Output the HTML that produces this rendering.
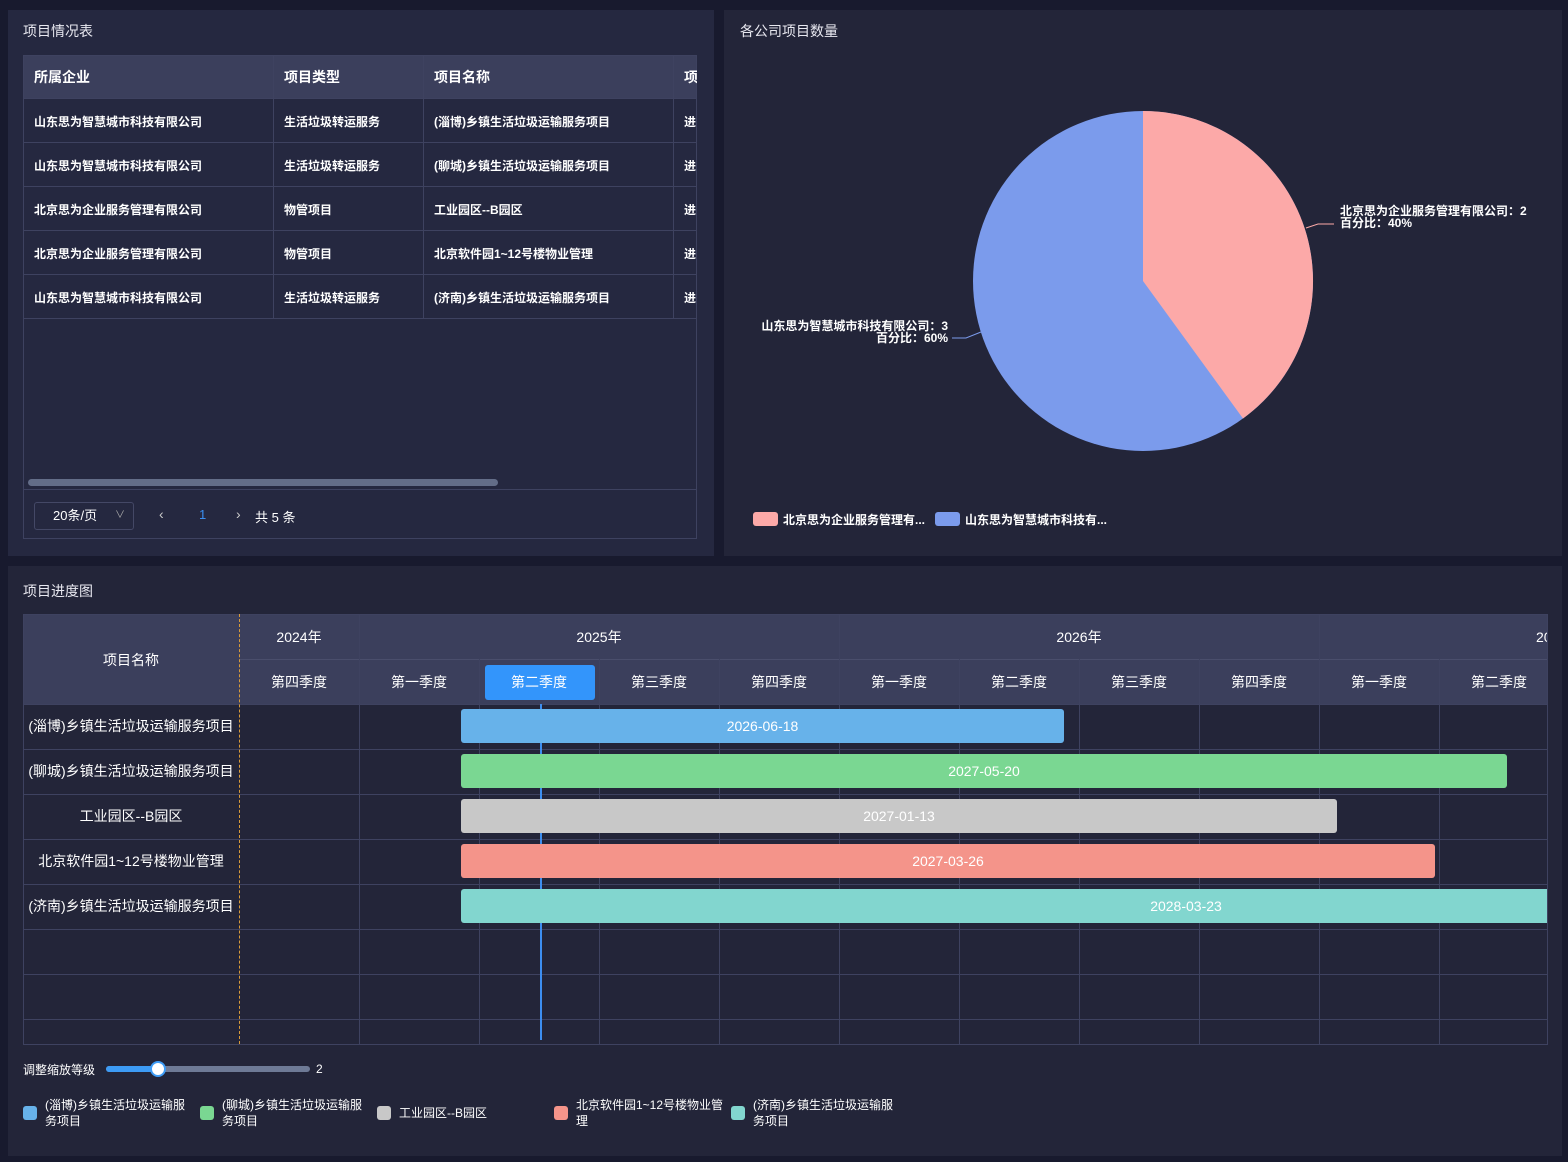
<!DOCTYPE html>
<html><head><meta charset="utf-8">
<style>
*{margin:0;padding:0;box-sizing:border-box}
body{width:1568px;height:1162px;background:#181a2e;font-family:"Liberation Sans","Noto Sans CJK SC",sans-serif;color:#fff;position:relative;overflow:hidden}
.p{position:absolute;background:#252840}
.a{position:absolute;white-space:nowrap}
.t{font-size:14px;color:#e8e8f0}
.cell{position:absolute;font-size:12px;font-weight:bold;display:flex;align-items:center;padding-left:11px}
.hl{position:absolute;height:1px;background:#3e4260}
.vl{position:absolute;width:1px;background:#3e4260}
.bar{position:absolute;height:34px;border-radius:3px;font-size:14px;display:flex;align-items:center;justify-content:center;color:#fff}
.q{position:absolute;top:659px;height:45px;width:120px;display:flex;align-items:center;justify-content:center;font-size:14px}
.lg{position:absolute;font-size:12px;line-height:16px;display:flex}
.lg i{display:inline-block;width:14px;height:14px;border-radius:3px;margin-right:8px;margin-top:9px;flex:none}
</style></head><body>
<div class="p" style="left:8px;top:10px;width:706px;height:546px"></div>
<div class="p" style="left:724px;top:10px;width:838px;height:546px;background:#232539"></div>
<div class="p" style="left:8px;top:566px;width:1554px;height:590px;background:#232539"></div>

<div class="a t" style="left:23px;top:21px">项目情况表</div>
<div style="position:absolute;left:23px;top:55px;width:674px;height:484px;border:1px solid #3e4260;overflow:hidden">
 <div style="position:absolute;left:0;top:0;width:674px;height:43px;background:#3b3f5c"></div>
</div>
<div class="cell" style="left:23px;top:55px;height:43px;font-size:14px">所属企业</div>
<div class="cell" style="left:273px;top:55px;height:43px;font-size:14px">项目类型</div>
<div class="cell" style="left:423px;top:55px;height:43px;font-size:14px">项目名称</div>
<div class="cell" style="left:673px;top:55px;height:43px;font-size:14px;width:24px;overflow:hidden">项</div>
<div class="vl" style="left:273px;top:55px;height:264px"></div>
<div class="vl" style="left:423px;top:55px;height:264px"></div>
<div class="vl" style="left:673px;top:55px;height:264px"></div>
<div class="hl" style="left:23px;top:98px;width:674px"></div>
<div class="hl" style="left:23px;top:142px;width:674px"></div>
<div class="hl" style="left:23px;top:186px;width:674px"></div>
<div class="hl" style="left:23px;top:230px;width:674px"></div>
<div class="hl" style="left:23px;top:274px;width:674px"></div>
<div class="hl" style="left:23px;top:318px;width:674px"></div>
<div class="cell" style="left:23px;top:99px;height:44px">山东思为智慧城市科技有限公司</div><div class="cell" style="left:273px;top:99px;height:44px">生活垃圾转运服务</div><div class="cell" style="left:423px;top:99px;height:44px">(淄博)乡镇生活垃圾运输服务项目</div><div class="cell" style="left:673px;top:99px;height:44px;width:24px;overflow:hidden">进</div>
<div class="cell" style="left:23px;top:143px;height:44px">山东思为智慧城市科技有限公司</div><div class="cell" style="left:273px;top:143px;height:44px">生活垃圾转运服务</div><div class="cell" style="left:423px;top:143px;height:44px">(聊城)乡镇生活垃圾运输服务项目</div><div class="cell" style="left:673px;top:143px;height:44px;width:24px;overflow:hidden">进</div>
<div class="cell" style="left:23px;top:187px;height:44px">北京思为企业服务管理有限公司</div><div class="cell" style="left:273px;top:187px;height:44px">物管项目</div><div class="cell" style="left:423px;top:187px;height:44px">工业园区--B园区</div><div class="cell" style="left:673px;top:187px;height:44px;width:24px;overflow:hidden">进</div>
<div class="cell" style="left:23px;top:231px;height:44px">北京思为企业服务管理有限公司</div><div class="cell" style="left:273px;top:231px;height:44px">物管项目</div><div class="cell" style="left:423px;top:231px;height:44px">北京软件园1~12号楼物业管理</div><div class="cell" style="left:673px;top:231px;height:44px;width:24px;overflow:hidden">进</div>
<div class="cell" style="left:23px;top:275px;height:44px">山东思为智慧城市科技有限公司</div><div class="cell" style="left:273px;top:275px;height:44px">生活垃圾转运服务</div><div class="cell" style="left:423px;top:275px;height:44px">(济南)乡镇生活垃圾运输服务项目</div><div class="cell" style="left:673px;top:275px;height:44px;width:24px;overflow:hidden">进</div>
<div style="position:absolute;left:28px;top:479px;width:470px;height:7px;border-radius:4px;background:#636d88"></div>
<div class="hl" style="left:23px;top:489px;width:674px"></div>
<div style="position:absolute;left:34px;top:502px;width:100px;height:28px;border:1px solid #444866;border-radius:3px;font-size:13px;line-height:26px;padding-left:18px">20条/页<span style="position:absolute;right:8px;font-size:10px;color:#aaa">∨</span></div>
<div class="a" style="left:159px;top:506px;font-size:14px;color:#ccc">‹</div>
<div class="a" style="left:199px;top:507px;font-size:13px;color:#3a8ef0">1</div>
<div class="a" style="left:236px;top:506px;font-size:14px;color:#ccc">›</div>
<div class="a" style="left:255px;top:507px;font-size:13px">共 5 条</div>

<div class="a t" style="left:740px;top:21px">各公司项目数量</div>
<svg style="position:absolute;left:0;top:0" width="1568" height="560">
<circle cx="1143" cy="281" r="170" fill="#7b9bec"/>
<path d="M1143 281 L1143 111 A170 170 0 0 1 1243 418.5 Z" fill="#fca9a8"/>
<polyline points="1306,228 1318,224 1334,224" fill="none" stroke="#fca9a8" stroke-width="1"/>
<polyline points="981,332 966,338 952,338" fill="none" stroke="#7b9bec" stroke-width="1"/>
</svg>
<div class="a" style="left:1340px;top:205px;font-size:12px;font-weight:bold;line-height:12px">北京思为企业服务管理有限公司：2<br>百分比：40%</div>
<div class="a" style="left:760px;top:320px;font-size:12px;font-weight:bold;line-height:12px;text-align:right;width:188px">山东思为智慧城市科技有限公司：3<br>百分比：60%</div>
<div class="a" style="left:753px;top:512px;width:25px;height:14px;border-radius:3px;background:#fca9a8"></div>
<div class="a" style="left:783px;top:511px;font-size:12px;font-weight:bold">北京思为企业服务管理有...</div>
<div class="a" style="left:935px;top:512px;width:25px;height:14px;border-radius:3px;background:#7b9bec"></div>
<div class="a" style="left:965px;top:511px;font-size:12px;font-weight:bold">山东思为智慧城市科技有...</div>

<div class="a t" style="left:23px;top:581px">项目进度图</div>
<div style="position:absolute;left:23px;top:614px;width:1525px;height:431px;border:1px solid #3e4260;overflow:hidden">
 <div style="position:absolute;left:0;top:0;width:1525px;height:90px;background:#3b3f5c"></div>
</div>
<div class="hl" style="left:239px;top:659px;width:1308px;background:#4a4e6c"></div>
<div class="hl" style="left:23px;top:704px;width:1524px"></div>
<div class="hl" style="left:23px;top:749px;width:1524px"></div>
<div class="hl" style="left:23px;top:794px;width:1524px"></div>
<div class="hl" style="left:23px;top:839px;width:1524px"></div>
<div class="hl" style="left:23px;top:884px;width:1524px"></div>
<div class="hl" style="left:23px;top:929px;width:1524px"></div>
<div class="hl" style="left:23px;top:974px;width:1524px"></div>
<div class="hl" style="left:23px;top:1019px;width:1524px"></div>
<div class="vl" style="left:359px;top:614px;height:430px;background:#3e4260"></div>
<div class="vl" style="left:839px;top:614px;height:430px"></div>
<div class="vl" style="left:1319px;top:614px;height:430px"></div>
<div class="vl" style="left:479px;top:659px;height:385px"></div>
<div class="vl" style="left:599px;top:659px;height:385px"></div>
<div class="vl" style="left:719px;top:659px;height:385px"></div>
<div class="vl" style="left:959px;top:659px;height:385px"></div>
<div class="vl" style="left:1079px;top:659px;height:385px"></div>
<div class="vl" style="left:1199px;top:659px;height:385px"></div>
<div class="vl" style="left:1439px;top:659px;height:385px"></div>
<div style="position:absolute;left:239px;top:614px;height:430px;border-left:1px dashed #d89a3a"></div>
<div class="a" style="left:23px;top:650px;width:216px;text-align:center;font-size:14px">项目名称</div>
<div class="a" style="left:239px;top:627px;width:120px;text-align:center;font-size:14px">2024年</div>
<div class="a" style="left:359px;top:627px;width:480px;text-align:center;font-size:14px">2025年</div>
<div class="a" style="left:839px;top:627px;width:480px;text-align:center;font-size:14px">2026年</div>
<div class="a" style="left:1536px;top:627px;width:11px;overflow:hidden;font-size:14px">2027年</div>
<div style="position:absolute;left:485px;top:665px;width:110px;height:35px;border-radius:3px;background:#3395fb"></div>
<div class="q" style="left:239px">第四季度</div><div class="q" style="left:359px">第一季度</div><div class="q" style="left:479px">第二季度</div><div class="q" style="left:599px">第三季度</div><div class="q" style="left:719px">第四季度</div><div class="q" style="left:839px">第一季度</div><div class="q" style="left:959px">第二季度</div><div class="q" style="left:1079px">第三季度</div><div class="q" style="left:1199px">第四季度</div><div class="q" style="left:1319px">第一季度</div><div class="q" style="left:1439px;width:120px">第二季度</div>
<div class="a" style="left:23px;top:716px;width:216px;text-align:center;font-size:14px">(淄博)乡镇生活垃圾运输服务项目</div>
<div class="a" style="left:23px;top:761px;width:216px;text-align:center;font-size:14px">(聊城)乡镇生活垃圾运输服务项目</div>
<div class="a" style="left:23px;top:806px;width:216px;text-align:center;font-size:14px">工业园区--B园区</div>
<div class="a" style="left:23px;top:851px;width:216px;text-align:center;font-size:14px">北京软件园1~12号楼物业管理</div>
<div class="a" style="left:23px;top:896px;width:216px;text-align:center;font-size:14px">(济南)乡镇生活垃圾运输服务项目</div>
<div style="position:absolute;left:540px;top:704px;width:2px;height:336px;background:#3d8ef0"></div>
<div class="bar" style="left:461px;top:709px;width:603px;background:#67b2ea">2026-06-18</div>
<div class="bar" style="left:461px;top:754px;width:1046px;background:#7ad792">2027-05-20</div>
<div class="bar" style="left:461px;top:799px;width:876px;background:#c8c8c8">2027-01-13</div>
<div class="bar" style="left:461px;top:844px;width:974px;background:#f4948a">2027-03-26</div>
<div class="bar" style="left:461px;top:889px;width:1450px;background:#82d6cf;clip-path:inset(0 364px 0 0)">2028-03-23</div>

<div class="a" style="left:23px;top:1061px;font-size:12px">调整缩放等级</div>
<div style="position:absolute;left:106px;top:1066px;width:204px;height:6px;border-radius:3px;background:#6e7a96"></div>
<div style="position:absolute;left:106px;top:1066px;width:52px;height:6px;border-radius:3px;background:#3d9bf5"></div>
<div style="position:absolute;left:150px;top:1061px;width:16px;height:16px;border-radius:50%;background:#fff;border:2px solid #3d9bf5"></div>
<div class="a" style="left:316px;top:1062px;font-size:12px">2</div>
<div class="lg" style="left:23px;top:1097px"><i style="background:#67b2ea"></i><span>(淄博)乡镇生活垃圾运输服<br>务项目</span></div>
<div class="lg" style="left:200px;top:1097px"><i style="background:#7ad792"></i><span>(聊城)乡镇生活垃圾运输服<br>务项目</span></div>
<div class="lg" style="left:377px;top:1097px"><i style="background:#c8c8c8"></i><span style="margin-top:8px">工业园区--B园区</span></div>
<div class="lg" style="left:554px;top:1097px"><i style="background:#f4948a"></i><span>北京软件园1~12号楼物业管<br>理</span></div>
<div class="lg" style="left:731px;top:1097px"><i style="background:#82d6cf"></i><span>(济南)乡镇生活垃圾运输服<br>务项目</span></div>
</body></html>
